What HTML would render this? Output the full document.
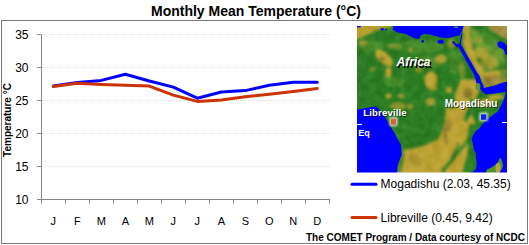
<!DOCTYPE html>
<html><head><meta charset="utf-8">
<style>
html,body{margin:0;padding:0;background:#fff;width:529px;height:245px;overflow:hidden}
svg{display:block;position:absolute;left:0;top:0}
text{font-family:"Liberation Sans",sans-serif}
</style></head><body>
<svg width="529" height="245" viewBox="0 0 529 245">
<defs>
<filter id="blur1" x="-20%" y="-20%" width="140%" height="140%" color-interpolation-filters="sRGB"><feGaussianBlur stdDeviation="1.6"/></filter>
<filter id="blur05" x="-5%" y="-5%" width="110%" height="110%"><feGaussianBlur stdDeviation="0.45"/></filter>
<filter id="ocean" x="-5%" y="-5%" width="110%" height="110%"><feGaussianBlur stdDeviation="0.6"/></filter>
<filter id="shadow2" x="-20%" y="-40%" width="140%" height="180%"><feGaussianBlur stdDeviation="0.35"/></filter>
<filter id="halo" x="-100%" y="-100%" width="300%" height="300%"><feGaussianBlur stdDeviation="1.3"/></filter>
<filter id="shadow" x="-20%" y="-40%" width="140%" height="180%"><feGaussianBlur stdDeviation="0.6"/></filter>
<filter id="tex2" x="357" y="26" width="150" height="147" filterUnits="userSpaceOnUse" color-interpolation-filters="sRGB">
<feTurbulence type="fractalNoise" baseFrequency="0.12" numOctaves="3" seed="5" result="n"/>
<feColorMatrix in="n" type="matrix" values="1 0 0 0 0  1 0 0 0 0  1 0 0 0 0  0 0 0 0 1"/>
</filter>
<clipPath id="mapclip"><rect x="357" y="26" width="150" height="146.5"/></clipPath>
</defs>

<!-- title -->
<text x="151" y="15.5" font-size="14" font-weight="bold" fill="#000">Monthly Mean Temperature (°C)</text>

<!-- frame -->
<rect x="1.5" y="20.5" width="526" height="223" fill="none" stroke="#7a7a7a" stroke-width="1"/>

<!-- gridlines -->
<g stroke="#dcdcdc" stroke-width="1" stroke-dasharray="1 1">
<line x1="42" y1="34.5" x2="329" y2="34.5"/>
<line x1="42" y1="67.5" x2="329" y2="67.5"/>
<line x1="42" y1="100.5" x2="329" y2="100.5"/>
<line x1="42" y1="133.5" x2="329" y2="133.5"/>
<line x1="42" y1="166.5" x2="329" y2="166.5"/>
</g>
<!-- axes -->
<g stroke="#868686" stroke-width="1" fill="none">
<line x1="41.5" y1="34.5" x2="41.5" y2="203.5"/>
<line x1="37" y1="199.5" x2="330" y2="199.5"/>
<line x1="37" y1="34.5" x2="41" y2="34.5"/>
<line x1="37" y1="67.5" x2="41" y2="67.5"/>
<line x1="37" y1="100.5" x2="41" y2="100.5"/>
<line x1="37" y1="133.5" x2="41" y2="133.5"/>
<line x1="37" y1="166.5" x2="41" y2="166.5"/>
<line x1="65.5" y1="199.5" x2="65.5" y2="203.5"/>
<line x1="89.5" y1="199.5" x2="89.5" y2="203.5"/>
<line x1="113.5" y1="199.5" x2="113.5" y2="203.5"/>
<line x1="137.5" y1="199.5" x2="137.5" y2="203.5"/>
<line x1="161.5" y1="199.5" x2="161.5" y2="203.5"/>
<line x1="185.5" y1="199.5" x2="185.5" y2="203.5"/>
<line x1="209.5" y1="199.5" x2="209.5" y2="203.5"/>
<line x1="233.5" y1="199.5" x2="233.5" y2="203.5"/>
<line x1="257.5" y1="199.5" x2="257.5" y2="203.5"/>
<line x1="281.5" y1="199.5" x2="281.5" y2="203.5"/>
<line x1="305.5" y1="199.5" x2="305.5" y2="203.5"/>
<line x1="329.5" y1="199.5" x2="329.5" y2="203.5"/>
</g>
<!-- y labels -->
<g font-size="12" fill="#000" text-anchor="end">
<text x="28.5" y="38.9">35</text>
<text x="28.5" y="71.9">30</text>
<text x="28.5" y="104.9">25</text>
<text x="28.5" y="137.9">20</text>
<text x="28.5" y="170.9">15</text>
<text x="28.5" y="203.9">10</text>
</g>
<text transform="translate(11,120) rotate(-90)" font-size="10" font-weight="bold" text-anchor="middle" fill="#000">Temperature °C</text>
<!-- x labels -->
<g font-size="11" fill="#000" text-anchor="middle">
<text x="53.3" y="224.8">J</text>
<text x="77.3" y="224.8">F</text>
<text x="101.3" y="224.8">M</text>
<text x="125.3" y="224.8">A</text>
<text x="149.3" y="224.8">M</text>
<text x="173.3" y="224.8">J</text>
<text x="197.3" y="224.8">J</text>
<text x="221.3" y="224.8">A</text>
<text x="245.3" y="224.8">S</text>
<text x="269.3" y="224.8">O</text>
<text x="293.3" y="224.8">N</text>
<text x="317.3" y="224.8">D</text>
</g>
<!-- data lines -->
<polyline fill="none" stroke="#0000ff" stroke-width="3" stroke-linejoin="round" stroke-linecap="round" points="53.3,86 77.3,82.5 101.3,80.4 125.3,74.3 149.3,81 173.3,87.1 197.3,98.2 221.3,92 245.3,90.6 269.3,85.3 293.3,82.2 317.3,82.2"/>
<polyline fill="none" stroke="#cc3300" stroke-width="3" stroke-linejoin="round" stroke-linecap="round" points="53.3,86.5 77.3,83.2 101.3,84.5 125.3,85.3 149.3,86.1 173.3,95.1 197.3,101.4 221.3,100 245.3,96.7 269.3,94.3 293.3,91.6 317.3,88.4"/>

<!-- MAP -->
<g clip-path="url(#mapclip)">
<rect x="357" y="26" width="150" height="147" fill="#2b7d22"/>
<g filter="url(#blur1)">
<g fill="#6f9e34" opacity="0.4">
<ellipse cx="420" cy="47" rx="25" ry="7"/>
<ellipse cx="428" cy="62" rx="14" ry="7"/>
<ellipse cx="372" cy="46" rx="12" ry="6"/>
<ellipse cx="395" cy="82" rx="10" ry="5"/>
<ellipse cx="455" cy="62" rx="6" ry="12"/>
</g>
<g fill="#bca232">
<path d="M352,20 L392,20 L391,27 L383,28.5 L375,31 L367,35 L361,38 L352,41 Z"/>
<ellipse cx="394" cy="46" rx="8" ry="2.5" opacity="0.5"/>
<path d="M380,25 L388,25 L387,27.5 L380,27.5 Z"/>
<ellipse cx="384" cy="58" rx="11" ry="5.5" transform="rotate(42 384 58)"/>
<ellipse cx="388.5" cy="71.5" rx="3" ry="4.5"/>
<ellipse cx="363" cy="43" rx="5" ry="3" opacity="0.7"/>
<ellipse cx="372" cy="69" rx="3" ry="2" opacity="0.6"/>
<ellipse cx="411" cy="50" rx="2.2" ry="1.6"/>
<ellipse cx="441" cy="59" rx="6" ry="4.5" opacity="0.9"/>
<ellipse cx="419" cy="70" rx="4" ry="3" opacity="0.6"/>
<ellipse cx="451" cy="44" rx="4" ry="5" opacity="0.7"/>
<ellipse cx="462" cy="70" rx="3" ry="8" opacity="0.5"/>
<path d="M470,28 L492,34 L503,50 L506,66 L490,68 L478,54 L472,42 Z" fill="#78a036" opacity="0.85"/>
<path d="M462,20 L470,20 L470,36 L473,50 L478,62 L485,72 L508,68 L508,82 L485,88 L480,78 L474,68 L468,57 L464,48 L462,38 Z"/>
<ellipse cx="489" cy="63" rx="9" ry="7" opacity="0.65"/>
<ellipse cx="478" cy="40" rx="4" ry="3" opacity="0.5"/>
<ellipse cx="481" cy="53" rx="8" ry="6" opacity="0.8"/>
<path d="M483,75 L500,76 L506,80 L490,86 L484,86 Z" fill="#a58c3c"/>
<ellipse cx="431" cy="80" rx="6.5" ry="9"/>
<ellipse cx="433" cy="88" rx="5" ry="3" opacity="0.7"/>
<ellipse cx="430.5" cy="101.5" rx="5" ry="4" opacity="0.85"/>
<ellipse cx="410" cy="106.5" rx="3" ry="3" opacity="0.7"/>
<ellipse cx="449" cy="90" rx="3" ry="3"/>
<path d="M461,79 L478,80 L479,92 L474,103 L467,114 L457,118 L455,95 Z"/>
<ellipse cx="487.5" cy="103.5" rx="10" ry="5" opacity="0.9"/>
<ellipse cx="496" cy="97" rx="8" ry="2.5"/>
<ellipse cx="388.5" cy="96" rx="3" ry="2.5"/>
<ellipse cx="401" cy="96" rx="3" ry="1.8"/>
<ellipse cx="398" cy="106" rx="8" ry="4" opacity="0.7"/>
<ellipse cx="388" cy="76" rx="2.5" ry="1.5"/>
<path d="M446,108 L460,107 L470,112 L476,124 L475,130 L470,136 L468,150 L470,175 L396,175 L398,160 L402,150 L420,147 L437,140 L444,128 Z"/>
</g>
<g fill="#8a7a30">
<ellipse cx="382" cy="58.5" rx="3.2" ry="2"/>
<ellipse cx="489" cy="80" rx="4" ry="3"/>
<ellipse cx="468" cy="93" rx="4" ry="5.5"/>
<path d="M442,124 L445,124 L448,144 L446,145 Z"/>
<ellipse cx="448" cy="125" rx="4" ry="6" opacity="0.6"/>
<ellipse cx="415" cy="160" rx="7" ry="6" opacity="0.3"/>
</g>
<g fill="#2b7d22">
<path d="M390,121 L439,121 L440,124 L437.6,136.2 L427.4,144.4 L417.2,146.4 L407,142.4 L402,150 L400,158 L396,160 Z"/>
<path d="M470,124 L478,124 L480,127 L474,135 L472,145 L476,153 L477,174 L462,174 L466,160 L469,148 L467,138 Z"/>
<path d="M470,138 L442,172" stroke="#2b7d22" stroke-width="3" fill="none"/>
<path d="M459,144 L448,166" stroke="#2b7d22" stroke-width="2" fill="none"/>
<path d="M471,96 L475,106 L467,122 L463,120 L468,108 Z"/>
<path d="M399,142 L405,146 L404,160 L401,173 L395,173 Z" opacity="0.7"/>
<path d="M480,108 L500,100 L503,104 L496,113 L486,120 L480,124 Z" opacity="0.8"/>
<path d="M500,60 L508,64 L508,80 L502,80 L498,68 Z" opacity="0.6"/>
<path d="M476,27 L492,32 L503,41 L499,50 L490,48 L482,38 Z" opacity="0.5"/>
<ellipse cx="462" cy="35" rx="3" ry="6" opacity="0.5"/>
</g>
<path d="M486,20 L512,20 L512,42 L504,38.5 L497,34 L490,30 Z" fill="#a69040"/>
</g>
<rect x="357" y="26" width="150" height="147" filter="url(#tex2)" opacity="0.3" style="mix-blend-mode:soft-light"/>
<g fill="#0000ff" filter="url(#blur05)">
<path d="M452.5,41.3 L457.8,47" stroke="#0000ff" stroke-width="1.8" fill="none"/>
<path d="M462,33.5 L459.6,47" stroke="#0000ff" stroke-width="1.1" fill="none"/>
</g>
<g fill="#0000ff" filter="url(#ocean)">
<path d="M394,25 L392.8,29.7 L397,32.2 L405.5,33.9 L410,36 L414,38.2 L419,39 L420.8,35.6 L424.2,33.9 L431,34.8 L439.5,37.3 L448,38.2 L454.8,36.5 L459.5,35.5 L461.6,32.2 L463.3,27.1 L464,25 Z"/>
<path d="M357,25 L361,25 L360.7,27.3 L357,27.5 Z"/>
<ellipse cx="382.3" cy="29.4" rx="1.8" ry="1.1"/>
<ellipse cx="386" cy="29.8" rx="1.2" ry="0.8"/>
<ellipse cx="440.6" cy="41.8" rx="3.3" ry="2"/>
<ellipse cx="422.7" cy="41.3" rx="1.2" ry="1.5"/>
<path d="M456.5,44 L460.2,50 L463.6,56 L466.8,62 L470.3,68 L473.8,74 L475.8,80 L477,85 L480.5,89.5 L483,92 L486,94.5 L494.2,93.5 L501,92.4 L505.3,91.8 L505.6,93.6 L504,99.3 L500.7,105.9 L497.4,112 L494.4,113.7 L489.6,117.8 L486.3,120.2 L483,123.5 L479.8,128 L475.7,130.9 L472.8,135.8 L471.8,139.7 L472.8,143.6 L473.8,150 L475.8,153.3 L475.8,158.6 L476.8,163.9 L475.8,169.2 L472.6,171.9 L470.5,173 L470,175 L508,175 L508,81.5 L506.4,81.7 L500.7,83.3 L494.2,85.8 L490.4,86.6 L486.3,87.4 L483.5,88.2 L483.5,86 L481.5,82 L479.6,76 L476.2,71 L472.7,65 L469.2,59 L465.8,53 L462.4,47 L460,43.5 Z"/>
<path d="M497,43 L500.5,41 L505,43.5 L508,46.5 L508,56 L505.5,54.5 L503.5,49.5 L498.5,47 Z"/>
<path d="M356,109.8 L364.8,108.2 L373,106.8 L376.2,106.5 L378.7,109 L381.5,112.5 L384.4,116.3 L387.6,121.2 L390.1,126.1 L394.2,132.6 L398.2,140 L400.9,144.4 L401.9,154.6 L399.5,160.4 L397.8,164.8 L396.8,175 L356,175 Z"/>
</g>
<g filter="url(#blur05)">
<path d="M500.1,157.4 L501.6,159.8 L503.1,165.7 L501.6,169.6 L499.6,172.5 L499,175 L485.5,175 L485.9,172.5 L486.9,169.6 L491.8,167.2 L496.7,163.7 L498.7,160.8 Z" fill="#4f9230"/>
<ellipse cx="498" cy="168" rx="2.5" ry="5" fill="#b8a23c"/>
<ellipse cx="478" cy="86.5" rx="2.5" ry="3.5" fill="#5a9432"/>
<ellipse cx="456" cy="27.3" rx="2.3" ry="0.8" fill="#5a9432"/>
</g>
</g>

<!-- map labels -->
<g font-weight="bold" font-style="italic" font-size="12">
<text x="397.8" y="67.6" fill="#000" filter="url(#shadow2)">Africa</text>
<text x="396.5" y="66.3" fill="#fff">Africa</text>
</g>
<g font-weight="bold" font-size="10">
<text x="364.2" y="117" fill="#000" opacity="0.6" font-size="9.6" letter-spacing="0.15" filter="url(#shadow)">Libreville</text>
<text x="363.2" y="116" fill="#fff" font-size="9.6" letter-spacing="0.15">Libreville</text>
<text x="445.7" y="108.2" fill="#000" opacity="0.6" filter="url(#shadow)">Mogadishu</text>
<text x="444.7" y="107.2" fill="#fff">Mogadishu</text>
<text x="358.3" y="135.8" fill="#fff" font-size="9">Eq</text>
</g>
<line x1="357" y1="124.5" x2="362" y2="124.5" stroke="#fff" stroke-width="1"/>
<line x1="502" y1="122.5" x2="507" y2="122.5" stroke="#fff" stroke-width="1"/>
<rect x="389.5" y="117" width="8" height="9" fill="#fff" opacity="0.75" filter="url(#halo)"/>
<rect x="391" y="118.7" width="5" height="6" fill="#e0603a"/>
<rect x="479.5" y="112.5" width="8.3" height="8.6" fill="#fff" opacity="0.75" filter="url(#halo)"/>
<rect x="481" y="114.3" width="5.3" height="5.5" fill="#1020ff"/>

<!-- legend -->
<line x1="352" y1="184.2" x2="376" y2="184.2" stroke="#0000ff" stroke-width="3" stroke-linecap="round"/>
<line x1="352" y1="217.6" x2="376" y2="217.6" stroke="#cc3300" stroke-width="3" stroke-linecap="round"/>
<g font-size="12" fill="#000">
<text x="380.6" y="188.3">Mogadishu (2.03, 45.35)</text>
<text x="380.6" y="222.1">Libreville (0.45, 9.42)</text>
</g>
<text x="306" y="240.5" font-size="10" font-weight="bold" fill="#000">The COMET Program / Data courtesy of NCDC</text>
</svg>
</body></html>
